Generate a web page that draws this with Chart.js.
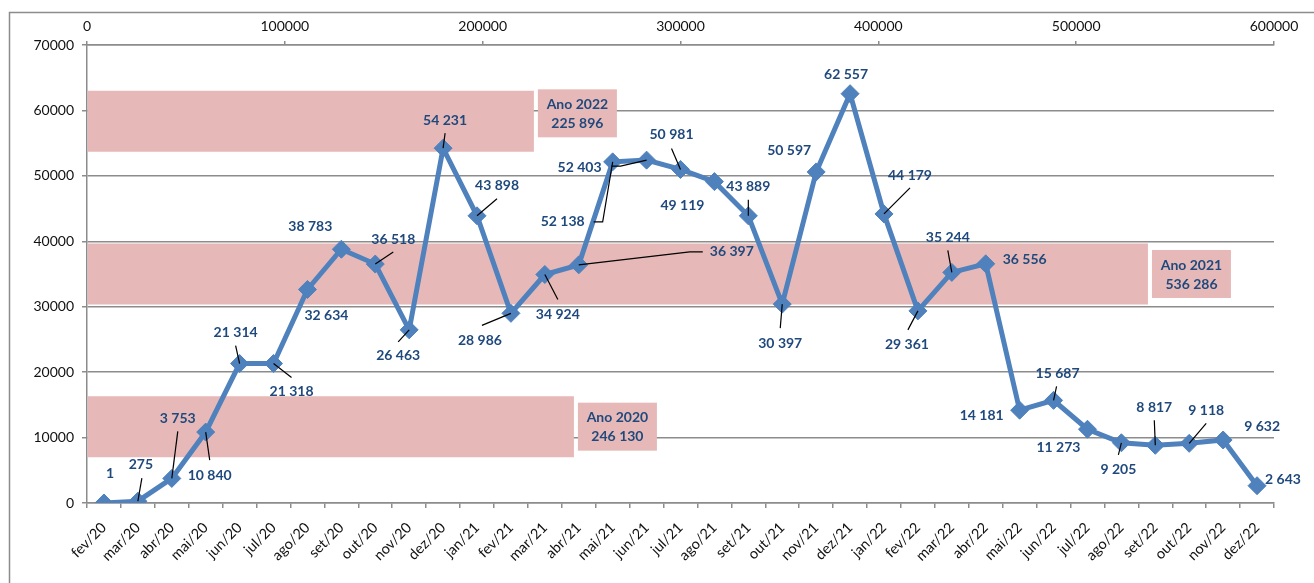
<!DOCTYPE html>
<html>
<head>
<meta charset="utf-8">
<script src="https://cdn.jsdelivr.net/npm/chart.js@4"></script>
<style>
  body { margin: 0; background: #fff; }
  canvas { display: block; }
</style>
</head>
<body>
<canvas id="chart" width="1314" height="583"></canvas>
<script>
// === DATA ===
const months = [
    "fev/20", "mar/20", "abr/20", "mai/20", "jun/20", "jul/20", "ago/20", "set/20", "out/20", "nov/20", "dez/20",
    "jan/21", "fev/21", "mar/21", "abr/21", "mai/21", "jun/21", "jul/21", "ago/21", "set/21", "out/21", "nov/21", "dez/21",
    "jan/22", "fev/22", "mar/22", "abr/22", "mai/22", "jun/22", "jul/22", "ago/22", "set/22", "out/22", "nov/22", "dez/22"
];
const monthlyValues = [
    1, 275, 3753, 10840, 21314, 21318, 32634, 38783, 36518, 26463, 54231,
    43898, 28986, 34924, 36397, 52138, 52403, 50981, 49119, 43889, 30397, 50597, 62557,
    44179, 29361, 35244, 36556, 14181, 15687, 11273, 9205, 8817, 9118, 9632, 2643
];
const yearLabels = ["Ano 2020", "Ano 2021", "Ano 2022"];
const yearTotals = [246130, 536286, 225896];

const leftAxisMax = 70000, leftAxisStep = 10000;
const topAxisMax = 600000, topAxisStep = 100000;

// label placement (text centre offset from point) and leader lines, in px
const labelOffsets = [
    [6,-30],[3,-37],[6,-60],[4,43],[-4,-31],[18,28],[19,26],[-31,-23],[18,-25],[-11,26],[2,-28],
    [20,-30],[-31,27],[13,40],[153,-13],[-50,60],[-67,7],[-9,-35],[-32,24],[0,-29],[-2,39],[-27,-21],[-4,-19],
    [26,-38],[-11,34],[-4,-35],[39,-4],[-38,5],[4,-27],[-29,18],[-3,27],[-1,-38],[17,-33],[39,-13],[26,-6]
];
const leaders = {
    1: [[4,-23]], 2: [[6,-47]], 3: [[4,28]], 4: [[-4,-18]], 5: [[18,14]], 8: [[18,-12]], 9: [[-11,12]],
    10: [[2,-15]], 11: [[20,-17]], 12: [[-29,12]], 13: [[13,25]], 14: [[111,-13],[124,-13]],
    15: [[-10,60],[-19,60]], 16: [[-26,6],[-35,6]], 17: [[-9,-21]], 19: [[0,-16]], 20: [[-2,24]],
    23: [[26,-26]], 24: [[-10,19]], 25: [[-4,-22]], 28: [[3,-14]], 30: [[-3,12]], 31: [[-1,-25]], 32: [[17,-20]]
};
const yearBoxOffsets = [0, 0, -8];

const LABEL_BLUE = "#1F497D";
const LINE_BLUE = "#4F81BD";
const PINK = "#E6B9B8";
const GRID = "#8C8C8C";
const FONT = "Lato, 'Open Sans', sans-serif";

function fmt(v) {
    return String(v).replace(/\B(?=(\d{3})+(?!\d))/g, " ");
}

const frame = {
    id: "frame",
    beforeDraw(chart) {
        const c = chart.ctx;
        c.save();
        c.fillStyle = "#fff";
        c.fillRect(0, 0, chart.width, chart.height);
        c.strokeStyle = GRID;
        c.lineWidth = 1.5;
        c.strokeRect(9.5, 12.5, chart.width + 50, chart.height + 50);
        c.restore();
    }
};

const valueLabels = {
    id: "valueLabels",
    afterDatasetsDraw(chart) {
        const c = chart.ctx;
        c.save();
        // monthly labels
        const pts = chart.getDatasetMeta(0).data;
        c.strokeStyle = "#000";
        c.lineWidth = 1.2;
        pts.forEach((p, i) => {
            const lead = leaders[i];
            if (lead) {
                c.beginPath();
                c.moveTo(p.x, p.y);
                lead.forEach(([dx, dy]) => c.lineTo(p.x + dx, p.y + dy));
                c.stroke();
            }
        });
        c.font = "bold 14px " + FONT;
        c.fillStyle = LABEL_BLUE;
        c.textAlign = "center";
        c.textBaseline = "middle";
        pts.forEach((p, i) => {
            const [dx, dy] = labelOffsets[i];
            c.fillText(fmt(monthlyValues[i]), p.x + dx, p.y + dy);
        });
        // yearly boxes
        const bars = chart.getDatasetMeta(1).data;
        bars.forEach((b, i) => {
            const x = b.x + 4, cy = b.y + yearBoxOffsets[i];
            c.fillStyle = PINK;
            c.fillRect(x, cy - 24, 79, 48);
            c.fillStyle = LABEL_BLUE;
            c.fillText(yearLabels[i], x + 39.5, cy - 9);
            c.fillText(fmt(yearTotals[i]), x + 39.5, cy + 10);
        });
        c.restore();
    }
};

const ctx = document.getElementById("chart").getContext("2d");
const chart = new Chart(ctx, {
    type: "line",
    data: {
        labels: months,
        datasets: [
            {
                label: "Mensal",
                data: monthlyValues,
                xAxisID: "x",
                yAxisID: "y",
                borderColor: LINE_BLUE,
                backgroundColor: LINE_BLUE,
                borderWidth: 5,
                tension: 0,
                pointStyle: "rectRot",
                pointRadius: 9,
                pointBorderWidth: 1,
                order: 0,
            },
            {
                type: "bar",
                label: "Anual",
                indexAxis: "y",
                data: yearTotals,
                xAxisID: "x2",
                yAxisID: "y2",
                backgroundColor: PINK,
                borderWidth: 0,
                grouped: false,
                categoryPercentage: 1,
                barPercentage: 0.4,
                order: 1,
            },
        ],
    },
    options: {
        responsive: false,
        animation: false,
        layout: { padding: { left: 0, top: 0, right: 40, bottom: 0 } },
        plugins: {
            legend: { display: false },
            tooltip: { enabled: false },
        },
        scales: {
            x: {
                type: "category",
                position: "bottom",
                offset: true,
                grid: { offset: true, drawOnChartArea: false, color: GRID, lineWidth: 1.5, tickLength: 5 },
                border: { color: GRID, width: 1.5 },
                ticks: {
                    color: "#111",
                    font: { family: FONT, size: 14.5 },
                    maxRotation: 45,
                    minRotation: 45,
                    autoSkip: false,
                    padding: 11,
                },
                afterFit(s) { s.height = 80; },
            },
            y: {
                type: "linear",
                position: "left",
                min: 0,
                max: leftAxisMax,
                grid: { color: GRID, lineWidth: 1.5, tickLength: 5 },
                border: { color: GRID, width: 1.5 },
                ticks: {
                    stepSize: leftAxisStep,
                    color: "#111",
                    font: { family: FONT, size: 14 },
                    padding: 8,
                    callback: (v) => String(v),
                },
                afterFit(s) { s.width = 87; },
            },
            x2: {
                type: "linear",
                position: "top",
                min: 0,
                max: topAxisMax,
                grid: { drawOnChartArea: false, color: GRID, lineWidth: 1.5, tickLength: 4 },
                border: { color: GRID, width: 1.5 },
                ticks: {
                    stepSize: topAxisStep,
                    color: "#111",
                    font: { family: FONT, size: 14 },
                    padding: 6,
                    callback: (v) => String(v),
                },
                afterFit(s) { s.height = 45; },
            },
            y2: {
                type: "category",
                position: "right",
                labels: yearLabels,
                reverse: true,
                offset: true,
                display: false,
            },
        },
    },
    plugins: [frame, valueLabels],
});
</script>
</body>
</html>
